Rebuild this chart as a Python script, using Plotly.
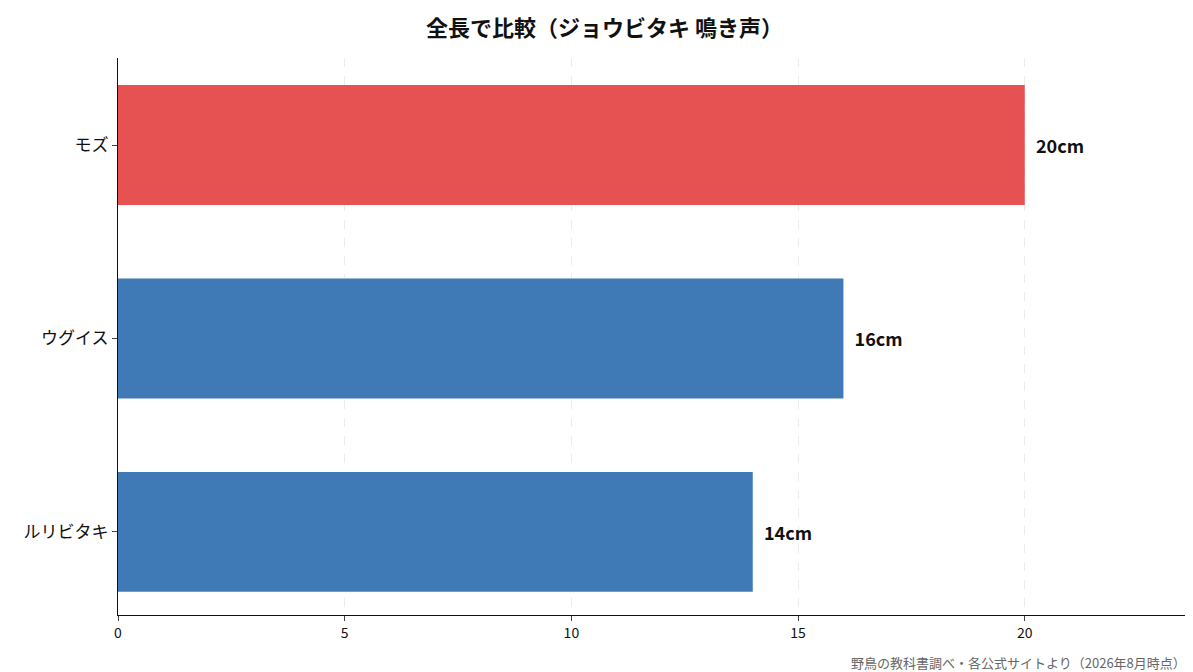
import plotly.graph_objects as go

birds = ["ルリビタキ", "ウグイス", "モズ"]
lengths = [14, 16, 20]
colors = ["#3f7ab6", "#3f7ab6", "#e65252"]
labels = [f"  {v}cm" for v in lengths]

fig = go.Figure(go.Bar(
    x=lengths, y=birds, orientation="h", width=0.62,
    marker=dict(color=colors, line=dict(width=0)),
    text=labels, textposition="outside", cliponaxis=False,
    textfont=dict(size=18, color="#111", family="Noto Sans CJK JP", weight="bold"),
))
fig.update_layout(
    width=1193, height=672, plot_bgcolor="white", paper_bgcolor="white",
    margin=dict(l=110, r=13, t=50, b=65, autoexpand=False),
    font=dict(family="Noto Sans CJK JP", color="#111"),
    title=dict(text="<b>全長で比較（ジョウビタキ 鳴き声）</b>", x=0.5, xanchor="center",
               y=0.97, yanchor="middle", font=dict(size=22, color="#111")),
    showlegend=False,
    annotations=[dict(text="野鳥の教科書調べ・各公式サイトより（2026年8月時点）", xref="paper", yref="paper",
                      x=1, y=-0.065, xanchor="right", yanchor="top", showarrow=False,
                      font=dict(size=13, color="#666"))],
)
fig.update_xaxes(range=[0, 23.6], tickvals=[0, 5, 10, 15, 20], showgrid=True,
                 gridcolor="#ececec", griddash="dash", zeroline=False, automargin=False,
                 showline=True, linecolor="#111", ticks="outside", ticklen=5,
                 tickfont=dict(size=14))
fig.update_yaxes(range=[-0.43, 2.45], showline=True, linecolor="#111", ticks="outside",
                 ticklen=5, tickfont=dict(size=17), showgrid=False, automargin=False)
fig.write_html("out.html")
